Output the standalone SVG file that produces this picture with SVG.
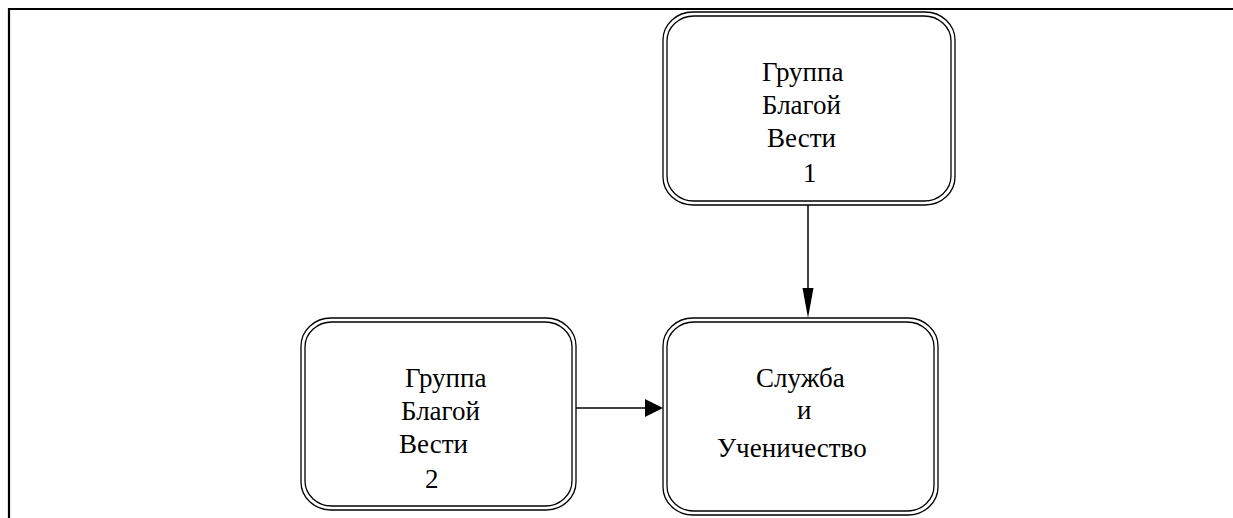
<svg xmlns="http://www.w3.org/2000/svg" width="1233" height="518" viewBox="0 0 1233 518">
<style>
.o{fill:none;stroke:#000;stroke-width:1.3}
.i{fill:none;stroke:#000;stroke-width:1.3}
.t{font-family:'Liberation Serif','Times New Roman',serif;font-size:27px;fill:#000}
.c{fill:none;stroke:#000;stroke-width:1.5}
</style>
<rect width="1233" height="518" fill="#fff"/>
<g id="frame">
<path d="M9 518 V9 H1233" fill="none" stroke="#000" stroke-width="2.2"/>
</g>
<g id="node1">
<rect class="o" x="663" y="12" width="292" height="193" rx="30" ry="28"/>
<rect class="i" x="667" y="16" width="284" height="185" rx="27" ry="25"/>
<text class="t" x="762" y="81">Группа</text>
<text class="t" x="762" y="114">Благой</text>
<text class="t" x="767" y="147">Вести</text>
<text class="t" x="803" y="182">1</text>
</g>
<g id="node2">
<rect class="o" x="301" y="318" width="275" height="192" rx="30" ry="28"/>
<rect class="i" x="305" y="322" width="267" height="184" rx="27" ry="25"/>
<text class="t" x="405" y="387">Группа</text>
<text class="t" x="401" y="420">Благой</text>
<text class="t" x="399" y="453">Вести</text>
<text class="t" x="425" y="488">2</text>
</g>
<g id="node3">
<rect class="o" x="663" y="318" width="275" height="197" rx="30" ry="28"/>
<rect class="i" x="667" y="322" width="267" height="189" rx="27" ry="25"/>
<text class="t" x="756" y="387">Служба</text>
<text class="t" x="797" y="419">и</text>
<text class="t" x="717" y="457">Ученичество</text>
</g>
<g id="connectors">
<line class="c" x1="808" y1="205" x2="808" y2="290"/>
<polygon points="802.5,288 813.5,288 808,318"/>
<line class="c" x1="576" y1="408" x2="647" y2="408"/>
<polygon points="645,399 663,408 645,417"/>
</g>
</svg>
